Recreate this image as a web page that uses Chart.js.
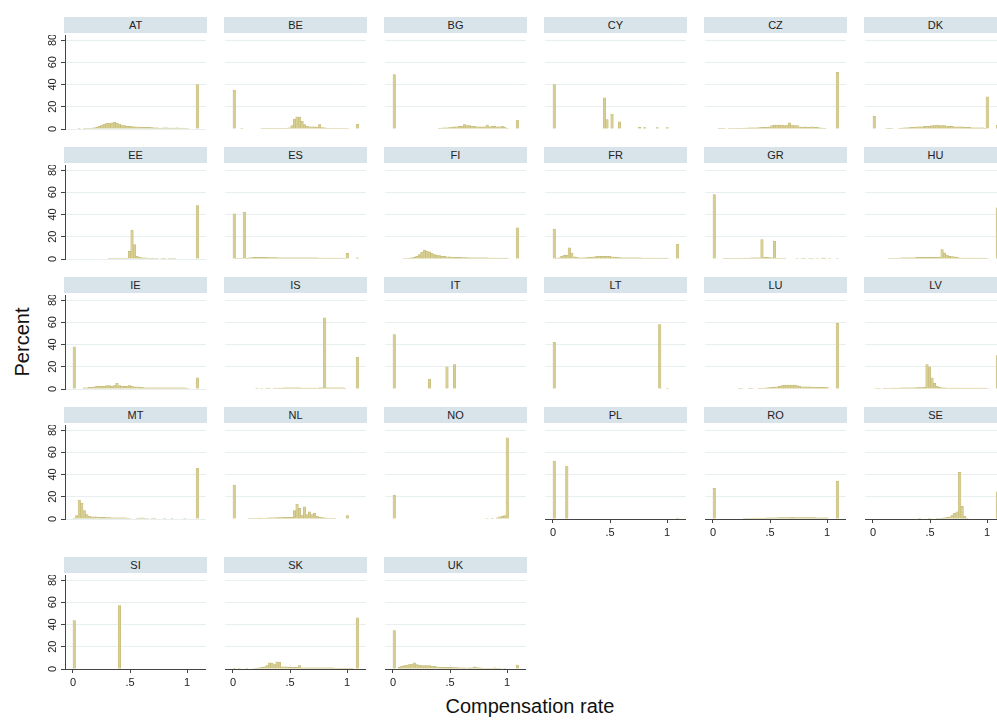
<!DOCTYPE html>
<html>
<head>
<meta charset="utf-8">
<script src="https://cdn.jsdelivr.net/npm/chart.js@4/dist/chart.umd.min.js"></script>
<style>
  body { margin: 0; background: #fff; overflow: hidden; font-family: "Liberation Sans", Arial, sans-serif; }
  #wrap { position: relative; width: 997px; height: 722px; overflow: hidden; }
  .strip { position: absolute; height: 16px; line-height: 16px; background: #d9e3ea; color: #222; font-size: 11px; text-align: center; }
  canvas { position: absolute; }
  .title { position: absolute; font-size: 20px; color: #111; white-space: nowrap; }
  #ytitle { left: 22px; top: 342px; transform: translate(-50%, -50%) rotate(-90deg); }
  #xtitle { left: 530px; top: 706px; transform: translate(-50%, -50%); }
</style>
</head>
<body>
<div id="wrap">
  <div class="title" id="ytitle">Percent</div>
  <div class="title" id="xtitle">Compensation rate</div>
</div>
<script>
// histogram bins: 50 bins of width 0.022 starting at 0
const binWidth = 0.022;
const binCenters = Array.from({ length: 50 }, (_, i) => (i + 0.5) * binWidth);

const xTicks = [0, 0.5, 1];
const xTickLabels = ['0', '.5', '1'];
const yTicks = [0, 20, 40, 60, 80];

const countries = ['AT', 'BE', 'BG', 'CY', 'CZ', 'DK',
                   'EE', 'ES', 'FI', 'FR', 'GR', 'HU',
                   'IE', 'IS', 'IT', 'LT', 'LU', 'LV',
                   'MT', 'NL', 'NO', 'PL', 'RO', 'SE',
                   'SI', 'SK', 'UK'];

// percent of observations per bin
const AT = [0,0,0.5,0,0.5,0.5,0.5,0.8,1,1.5,
            2.5,3.5,4.5,5,5,5.5,6,5,4.5,3.5,
            3,2.5,2.5,2.2,2,2,1.8,1.5,1.5,1.5,
            1.5,1.2,1,1,0.8,0.8,1,1,0.8,0.8,
            0.8,1,0.8,0.8,0.5,0.5,0,0,0,40];
const BE = [35,0,0,0.6,0,0,0,0,0,0,
            0,0.4,0.4,0.4,0.4,0.4,0.4,0.5,0.5,0.5,
            0.6,0.8,1,3,9,11,10.5,7,4,2.5,
            2,2,2,1.5,4,1.2,1,0.8,0.5,0.5,
            0.5,0.5,0.5,0.5,0.5,0.5,0,0,0,4.5];
const BG = [49,0,0,0,0,0,0,0,0,0,
            0,0,0,0,0,0,0,0,0.5,0.8,
            1,1,1.2,1.5,2,2,2.5,2.5,4,3,
            3,2.5,2.5,2,2,2,2,3.5,2,2.5,
            2.5,2,2,2.5,1.5,0.5,0,0,0,8];
const CY = [40,0,0,0,0,0,0,0,0,0,
            0,0,0,0,0,0,0,0,0,0,
            28,8.5,0,13.5,0,0,6.5,0,0,0,
            0,0,0,0,1.5,0,1.2,0,0,0,
            0,1.2,0,0,0,1.2,0,0,0,0];
const CZ = [0,0,0.5,0.5,0.5,0,0.5,0.5,0.5,0.5,
            0.6,0.6,0.8,0.8,1,1,1,1,1.2,1.5,
            1.5,1.5,2,3,3.5,3.5,3.5,3.5,3,3.5,
            5.5,3.5,3,3,2,1.5,2,1.5,1.5,2,
            1.5,1.5,1,0.8,0.5,0,0,0,0,51];
const DK = [11.5,0,0,0,0,0.5,0.3,0.5,0,0,
            0.5,0.8,1,1,1.2,1.5,1.5,2,2,2,
            2.5,2.5,2.5,3,3,3.5,3,3,3,2.5,
            2.5,2.5,2,2,2,2,1.5,1.5,1.5,1,
            1,1,1,1,0.8,29,0,0,0,3.5];
const EE = [0,0,0,0,0,0,0,0,0,0,
            0,0,0,0,0.5,0.5,0.5,0.5,0.5,0.5,
            0.5,0.5,7,26,13,2.5,1.5,1,1,0.8,
            0.5,0.8,0.5,0.5,0,0.6,0.6,0,0.5,0.5,
            0.5,0,0,0,0,0,0,0,0,48];
const ES = [40.5,0.5,0.5,0.5,42,0.8,1,1.2,1.5,1.5,
            1.5,1.5,1.5,1.5,1.2,1.2,1.2,1.2,1,1,
            1,1,1,1,1,1,1,1,1,1,
            1,1,1,1,0.8,0.8,0.8,0.8,0.8,0.8,
            0.8,0.8,0.8,0.8,0.5,5,0,0,0,1];
const FI = [0,0,0,0,0.4,0.5,0.8,1,1.5,2.5,
            4,6,8,7,6.5,5,4,3.5,3,2.5,
            2.5,2,2,1.8,1.5,1.5,1.5,1.2,1.2,1.2,
            1,1,1,1,1,1,1,1,0.8,0.8,
            0.8,0.8,0.8,0.8,0.8,0.8,0,0,0,28];
const FR = [27,0.5,1,2.5,3.5,3.5,10,5,2,1.5,
            1,1,1,1.2,1.5,1.8,2,2.5,2.5,2.5,
            2.5,2.5,2.5,2,1.8,1.5,1.2,1,1,1,
            1,1,1,1,1,0.8,0.8,0.8,0.8,0.8,
            0.8,0.8,0.8,0.8,0.8,0.8,0,0,0,13.5];
const GR = [58,0,0,0,0.7,0.7,0.7,0.7,0.7,0.7,
            0.7,0.7,0.8,0.8,0.8,1,1,1,1,17.5,
            1.5,1.5,1.2,1,16,0.5,0.5,0.5,0.5,0,
            0,0,0,0.5,0,0.5,0.5,0,0.5,0.5,
            0,0.5,0,0.8,0.8,0,0.5,0,0,0.5];
const HU = [0,0,0,0,0,0,0.5,0.5,0.5,0.5,
            0.5,1,1,1,1,1,1,1.5,1.5,1.5,
            1.5,1.5,1.5,1.5,1.5,1.5,1.8,8.5,5.5,3.5,
            2.5,2.2,2,1.5,0.8,0.8,0.8,0.8,0.8,0.8,
            0.8,0.8,0.8,0.8,0.8,0.5,0,0,0,46];
const IE = [38,0,0,0,1,1,1.5,1.5,2,2.5,
            2.5,2.5,2.5,3,3,2.5,3,5,3,2.5,
            2.5,2.5,3,2.5,2,2,1.8,1.5,1,1,
            1,1,1,1,1,1,1,1,1,1,
            1,1,1,1,1,0.8,0,0,0,10];
const IS = [0,0,0,0,0,0,0,0,0,0.8,
            0,0.5,0,0.8,0.5,0,0.8,0.5,0.8,0.8,
            1,1,1,1,1,1,1,0.8,0.8,0.8,
            0.8,0.8,0.8,0.5,1,1,64,1,1,1,
            1,1,1,1,0.8,0,0,0,0,28.5];
const IT = [49,0,0,0,0,0,0,0,0,0,
            0,0,0,0,9,0,0,0,0,0,
            0,20,0,0,22,0,0,0,0,0,
            0,0,0,0,0,0,0,0,0,0,
            0,0,0,0,0,0,0,0,0,0];
const LT = [42,0,0,0,0,0,0,0,0,0,
            0,0,0,0,0,0,0,0,0,0,
            0,0,0,0,0,0,0,0,0,0,
            0,0,0,0,0,0,0,0,0,0,
            0,0,58,0,0,0.7,0,0,0,0];
const LU = [0,0,0,0,0,0,0,0,0,0,
            0.5,0.5,0,0,0.5,0.5,0,0,0.3,0.5,
            0.8,1,1.2,1.5,1.8,2,2.5,3,3.5,3.5,
            3.5,3.5,3.5,3,2.5,2,2,2,2,1.8,
            1.8,1.5,1.5,1.5,1.5,1.2,0,0,0,59];
const LV = [0,0.5,0.5,0,0.3,0.5,0.5,0.8,0.8,0.8,
            0.8,1,1,1,1,1,1,1.2,1.2,1.2,
            1.5,22,20,10,5,2.5,1.5,1,1,0.8,
            0.8,0.8,0.8,0.8,0.8,0.8,0.8,0.8,0.8,0.8,
            0.8,0.8,0.8,0.8,0.8,0.5,0,0,0,30];
const MT = [0.3,3,17,14,7.5,4,2.5,2,2,2,
            1.5,1.5,1.5,1.2,1.2,1,1,1,1,1,
            1,0.8,0.5,0,0,0.5,0.8,1,0.5,0.5,
            0,0.5,0.5,0,0,0,0.5,0,0,0.5,
            0,0,0,0,0.5,0,0,0,0,45.5];
const NL = [30.5,0,0,0,0,0,0.5,0.3,0.5,0.5,
            0.8,0.8,0.5,0.8,1,1,1,1.2,1.2,1.2,
            1.5,1.5,1.5,1.5,7.5,13.5,9.5,3.5,11,4,
            6.5,4,5,2.5,1.5,1.2,1,0.8,0.5,0.5,
            0.5,0,0,0,0,3,0,0,0,0];
const NO = [21.5,0,0,0,0,0,0,0,0,0,
            0,0,0,0,0,0,0,0,0,0,
            0,0,0,0,0,0,0,0,0,0,
            0,0,0,0,0,0,0,0.5,0,0.5,
            0,1,2,2.5,3,73,0,0,0,0];
const PL = [52,0,0,0,0,47.5,0,0,0,0,
            0,0,0,0,0,0,0,0,0,0,
            0,0,0,0,0,0,0,0,0,0,
            0,0,0,0,0,0,0,0,0,0,
            0,0,0,0,0,0,0,0,0,0.8];
const RO = [27.5,0,0,0,0,0,0,0,0,0,
            0,0,0.5,0.5,0.5,0.5,0.8,0.8,0.8,0.8,
            0.8,1,1,1,1,1,1.3,1.3,1.3,1.3,
            1.3,1.5,1.3,1.3,1.3,1.3,1.2,1.2,1.2,1.2,
            1.2,1,1,1,1,1,0,0,0,34];
const SE = [0,0,0,0,0,0,0,0,0,0,
            0,0,0,0,0,0,0,0,0.3,0,
            0,0,0.3,0,0,0.5,0.5,0.8,1,1.5,
            2,3.5,5,6.5,42,11.5,2.5,0.5,0,0,
            0,0,0,0,0,0,0,0,0,24.5];
const SI = [43.5,0,0,0,0,0,0,0,0,0,
            0,0,0,0,0,0,0,0,57,0,
            0,0,0,0,0,0,0,0,0,0,
            0,0,0,0,0,0,0,0,0,0,
            0,0,0,0,0,0,0,0,0,0];
const SK = [0.3,0,0.5,0,0,0.5,0,0,0.5,0.8,
            1,1.5,2,3,5.5,5,4,6.5,6,2,
            2,2,1.5,1.5,1.5,1.5,3,1,1,1,
            1,1,1,1,1,1,1,1,1,1,
            0.7,0.7,0.7,0.7,0.7,0.7,0.7,0.7,0,46];
const UK = [34.5,0,1.5,2.5,3,3.5,4,4.5,5.5,4,
            3.5,3,3,3,3,2.5,2.5,2,1.5,1.5,
            1.5,1.5,1.5,1.5,1.2,1.2,1,1,1,0.8,
            1,1,2,1.2,1,0.8,0.5,0.5,0.5,0.5,
            1,0.5,0.5,0,0.5,0,0,0,0,3.5];

const series = { AT, BE, BG, CY, CZ, DK, EE, ES, FI, FR, GR, HU, IE, IS,
                 IT, LT, LU, LV, MT, NL, NO, PL, RO, SE, SI, SK, UK };

// panels that carry the x axis
const axisPanels = ['PL', 'RO', 'SE', 'SI', 'SK', 'UK'];

const colLeft = [64, 224, 384, 544, 704, 864];
const rowTop = [17, 147, 277, 407, 557];

const barFill = 'rgb(215,206,146)';
const barEdge = 'rgb(192,182,115)';
const gridColor = '#e8eff1';
const axisColor = '#444';
const tickFont = { size: 11, family: '"Liberation Sans", Arial, sans-serif' };

const wrap = document.getElementById('wrap');

countries.forEach((code, k) => {
  const row = Math.floor(k / 6);
  const col = k % 6;
  const x0 = colLeft[col];
  const top = rowTop[row];
  const first = col === 0;
  const bottom = axisPanels.includes(code);

  const strip = document.createElement('div');
  strip.className = 'strip';
  strip.style.left = x0 + 'px';
  strip.style.top = top + 'px';
  strip.style.width = '143px';
  strip.textContent = code;
  wrap.appendChild(strip);

  const yw = first ? 35 : 0;
  const xh = bottom ? 24 : (first ? 6 : 0);
  const canvas = document.createElement('canvas');
  canvas.width = yw + 141;
  canvas.height = 94 + xh;
  canvas.style.left = (x0 + 1 - yw) + 'px';
  canvas.style.top = (top + 18) + 'px';
  wrap.appendChild(canvas);

  new Chart(canvas.getContext('2d'), {
    type: 'bar',
    data: {
      datasets: [{
        data: series[code].map((v, i) => ({ x: binCenters[i], y: v })),
        backgroundColor: barFill,
        borderColor: barEdge,
        borderWidth: 0.5,
        barPercentage: 1,
        categoryPercentage: 1,
      }],
    },
    options: {
      responsive: false,
      animation: false,
      events: [],
      layout: { padding: 0 },
      plugins: {
        legend: { display: false },
        tooltip: { enabled: false },
      },
      scales: {
        x: {
          type: 'linear',
          offset: false,
          min: -0.07,
          max: 1.165,
          afterBuildTicks: (s) => { s.ticks = xTicks.map((v) => ({ value: v })); },
          afterFit: (s) => { s.height = xh; s.paddingLeft = 0; s.paddingRight = 0; },
          grid: { display: bottom, offset: false, drawOnChartArea: false, drawTicks: bottom, tickLength: 4, tickColor: axisColor },
          border: { display: bottom, color: axisColor, z: 1 },
          ticks: {
            display: bottom,
            padding: 3,
            maxRotation: 0,
            autoSkip: false,
            color: '#222',
            font: tickFont,
            callback: (v, i) => xTickLabels[i],
          },
        },
        y: {
          min: 0,
          max: 84.5,
          afterBuildTicks: (s) => { s.ticks = yTicks.map((v) => ({ value: v })); },
          afterFit: (s) => { s.width = yw; s.paddingTop = 0; s.paddingBottom = 0; },
          grid: { color: gridColor, drawTicks: first, tickLength: 4, tickColor: axisColor },
          border: { display: first, color: axisColor, z: 1 },
          ticks: {
            display: first,
            padding: 2,
            crossAlign: 'center',
            minRotation: 90,
            maxRotation: 90,
            color: '#222',
            font: tickFont,
          },
        },
      },
    },
  });
});
</script>
</body>
</html>
